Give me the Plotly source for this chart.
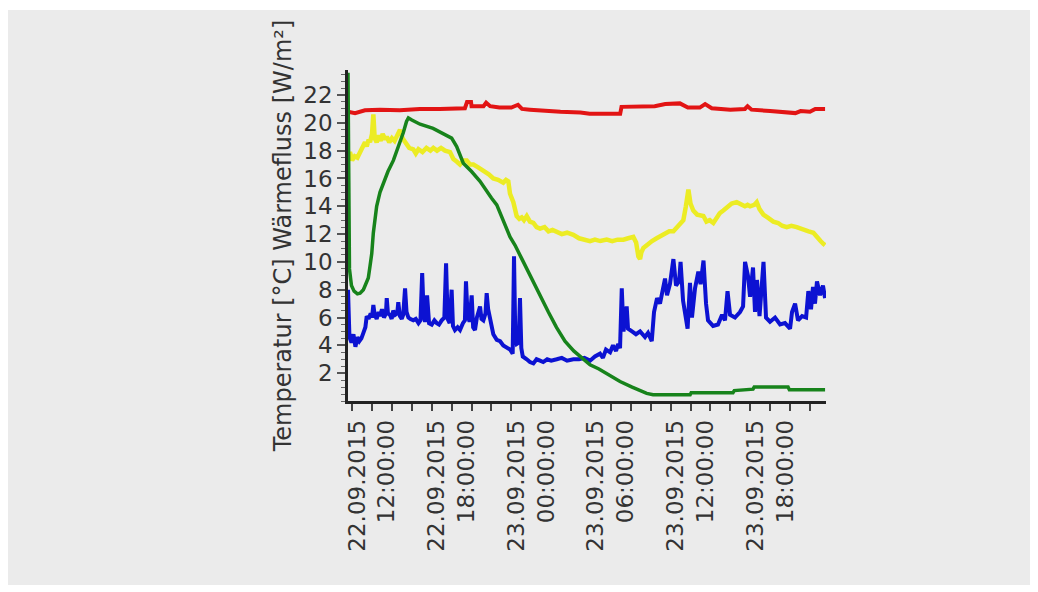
import pandas as pd
import plotly.graph_objects as go

# Hours after 22.09.2015 00:00 and the measured values of each channel
day0 = pd.Timestamp("2015-09-22 00:00:00")

red_h = [10.19, 10.72, 11.47, 12.6, 14.1, 15.6, 17.1, 18.25, 19.0, 19.16, 19.46, 19.5,
         20.4, 20.6, 20.9, 21.6, 22.5, 23.0, 23.3, 23.9, 25.0, 26.2, 27.7, 28.4, 29.9,
         30.7, 30.8, 32.2, 33.3, 34.1, 35.2, 35.8, 36.7, 37.1, 37.6, 39.0, 40.1, 40.3,
         40.6, 42.0, 43.1, 43.9, 44.3, 45.0, 45.4, 46.14]
red_v = [20.8, 20.7, 20.9, 20.95, 20.9, 21.0, 21.0, 21.05, 21.05, 21.5, 21.5, 21.2,
         21.2, 21.45, 21.2, 21.1, 21.1, 21.3, 21.0, 20.95, 20.85, 20.8, 20.75, 20.65, 20.65,
         20.65, 21.15, 21.15, 21.2, 21.35, 21.4, 21.1, 21.1, 21.35, 21.05, 20.95, 21.0, 21.2,
         20.95, 20.85, 20.8, 20.7, 20.85, 20.8, 21.0, 21.0]

yellow_h = [10.19, 10.34, 10.5, 10.7, 10.9, 11.1, 11.3, 11.47, 11.6, 11.75, 11.85, 12.0,
            12.1, 12.2, 12.35, 12.5, 12.65, 12.8, 13.0, 13.11, 13.3, 13.5, 13.7, 13.9,
            14.11, 14.3, 14.61, 14.8, 15.11, 15.3, 15.5, 15.8, 16.1, 16.4, 16.62, 16.9,
            17.2, 17.5, 17.88, 18.13, 18.4, 18.63, 18.9, 19.14, 19.4, 19.64, 20.0, 20.39,
            20.8, 21.14, 21.5, 21.89, 22.1, 22.27, 22.4, 22.65, 22.9, 23.1, 23.28, 23.45,
            23.66, 23.9, 24.16, 24.4, 24.66, 25.0, 25.3, 25.6, 25.92, 26.3, 26.7, 27.17,
            27.6, 28.0, 28.43, 28.8, 29.2, 29.69, 30.1, 30.5, 30.94, 31.3, 31.69, 31.9,
            32.07, 32.2, 32.3, 32.45, 32.8, 33.1, 33.45, 33.8, 34.1, 34.4, 34.71, 35.0,
            35.2, 35.46, 35.65, 35.84, 36.0, 36.21, 36.5, 36.97, 37.2, 37.45, 37.72, 38.0,
            38.2, 38.47, 38.8, 39.1, 39.48, 39.8, 40.1, 40.3, 40.49, 40.8, 40.99, 41.2,
            41.49, 41.8, 42.24, 42.6, 42.9, 43.25, 43.6, 44.0, 44.25, 44.6, 44.9, 45.26,
            45.5, 45.8, 46.01, 46.14]
yellow_v = [17.4, 17.9, 17.3, 17.6, 17.5, 17.9, 18.3, 18.6, 18.3, 18.8, 18.6, 19.2,
            20.6, 18.9, 18.6, 19.1, 18.7, 19.2, 18.8, 19.0, 18.6, 18.9, 18.7, 19.2,
            19.5, 18.9, 18.5, 18.2, 18.1, 17.8, 18.1, 17.9, 18.2, 18.0, 18.2, 18.0,
            18.2, 18.0, 17.9, 17.4, 17.2, 17.0, 17.3, 17.3, 17.0, 17.0, 16.8, 16.6,
            16.3, 16.0, 15.9, 15.7, 15.9, 15.8, 14.9, 14.3, 13.3, 13.1, 13.2, 13.0,
            13.3, 12.9, 12.8, 12.5, 12.4, 12.5, 12.2, 12.3, 12.2, 12.0, 12.1, 11.95,
            11.7, 11.6, 11.5, 11.6, 11.5, 11.6, 11.5, 11.6, 11.6, 11.7, 11.8, 11.4,
            10.4, 10.2, 10.7, 11.0, 11.3, 11.5, 11.7, 11.9, 12.0, 12.2, 12.2, 12.5,
            12.8, 13.0, 14.0, 15.2, 14.2, 13.7, 13.4, 13.3, 12.9, 13.0, 12.8, 13.2,
            13.5, 13.7, 14.0, 14.2, 14.3, 14.1, 14.0, 14.1, 14.0, 14.1, 14.3, 13.8,
            13.4, 13.2, 12.9, 12.8, 12.6, 12.5, 12.6, 12.5, 12.4, 12.3, 12.2, 12.1,
            11.8, 11.5, 11.3, 11.2]

blue_h = [10.19, 10.3, 10.45, 10.6, 10.75, 10.9, 11.05, 11.2, 11.35, 11.5, 11.6, 11.75,
          11.9, 12.0, 12.1, 12.2, 12.35, 12.5, 12.6, 12.75, 12.9, 13.05, 13.11, 13.2,
          13.35, 13.48, 13.6, 13.75, 13.9, 13.98, 14.1, 14.24, 14.35, 14.49, 14.6, 14.74,
          14.9, 15.11, 15.3, 15.5, 15.65, 15.78, 15.9, 16.0, 16.15, 16.3, 16.5, 16.7,
          16.88, 17.05, 17.25, 17.45, 17.58, 17.7, 17.85, 18.0, 18.1, 18.25, 18.45, 18.63,
          18.85, 19.0, 19.08, 19.2, 19.35, 19.51, 19.62, 19.76, 19.9, 20.14, 20.25, 20.39,
          20.55, 20.64, 20.75, 20.89, 21.0, 21.14, 21.4, 21.65, 21.89, 22.1, 22.4, 22.6,
          22.7, 22.8, 22.9, 23.05, 23.15, 23.25, 23.36, 23.66, 23.9, 24.16, 24.4, 24.66,
          24.9, 25.2, 25.5, 25.92, 26.3, 26.7, 27.17, 27.6, 28.0, 28.43, 28.8, 29.18,
          29.4, 29.63, 29.94, 30.16, 30.39, 30.54, 30.69, 30.82, 30.95, 31.19, 31.29, 31.59,
          31.89, 32.2, 32.57, 32.8, 33.08, 33.25, 33.48, 33.7, 33.93, 34.08, 34.23, 34.45,
          34.71, 34.91, 35.14, 35.25, 35.44, 35.67, 35.78, 35.96, 36.11, 36.34, 36.59, 36.76,
          36.98, 37.17, 37.32, 37.7, 38.07, 38.38, 38.6, 38.79, 38.98, 39.35, 39.73, 39.96,
          40.11, 40.33, 40.49, 40.71, 40.86, 41.01, 41.2, 41.5, 41.69, 41.99, 42.37, 42.75,
          43.12, 43.5, 43.65, 43.88, 44.1, 44.41, 44.71, 44.88, 45.08, 45.23, 45.38, 45.53,
          45.76, 45.98, 46.14]
blue_v = [8.0, 4.6, 4.2, 4.8, 3.9, 4.6, 4.3, 4.5, 4.9, 5.3, 6.1, 5.9,
          6.3, 6.0, 6.9, 6.2, 5.9, 6.4, 6.1, 6.6, 6.0, 6.3, 7.4, 6.3,
          6.2, 5.9, 6.5, 6.2, 6.3, 7.1, 6.1, 5.9, 6.2, 8.1, 6.4, 6.0,
          5.9, 5.8, 5.9, 5.6, 5.8, 9.2, 6.1, 5.7, 7.6, 5.6, 5.5, 5.8,
          5.6, 5.5, 5.8, 6.0, 9.9, 5.9, 5.6, 8.0, 5.4, 5.1, 5.3, 5.1,
          5.6, 5.8, 8.6, 6.2, 5.7, 7.6, 5.3, 5.1, 6.0, 6.8, 5.9, 5.8,
          6.3, 7.75, 6.6, 6.0, 5.2, 4.8, 4.4, 4.3, 4.0, 3.9, 3.7, 3.4,
          10.4, 4.5, 4.1, 4.2, 7.4, 3.8, 3.2, 3.0, 2.8, 2.7, 3.0, 2.9,
          2.8, 3.0, 2.9, 3.0, 3.1, 2.9, 3.0, 3.0, 3.1, 2.9, 3.2, 3.4,
          3.1, 3.7, 3.5, 4.0, 3.6, 4.1, 3.8, 8.1, 5.0, 6.8, 5.2, 5.0,
          4.8, 5.0, 4.6, 4.9, 4.3, 6.4, 7.4, 7.0, 8.2, 8.8, 7.6, 8.4,
          10.2, 8.3, 8.6, 10.0, 7.2, 5.8, 5.2, 8.5, 6.0, 8.1, 9.3, 8.4,
          10.1, 7.0, 5.8, 5.4, 5.5, 6.2, 5.8, 7.9, 6.2, 6.0, 6.4, 6.8,
          10.0, 9.0, 7.5, 9.6, 6.4, 8.7, 6.1, 10.0, 6.0, 5.7, 6.0, 5.5,
          5.6, 5.2, 6.4, 7.0, 5.8, 6.1, 6.0, 7.9, 6.6, 8.2, 7.0, 8.6,
          7.6, 8.3, 7.4]

green_h = [10.19, 10.25, 10.3, 10.45, 10.65, 10.9, 11.1, 11.35, 11.55, 11.72, 11.85, 11.98,
           12.1, 12.35, 12.6, 12.85, 13.2, 13.61, 14.0, 14.36, 14.6, 14.74, 15.0, 15.62,
           16.6, 17.63, 18.0, 18.38, 18.88, 19.5, 20.14, 21.0, 21.4, 22.4, 22.78, 23.3,
           24.03, 24.6, 25.29, 25.9, 26.54, 27.2, 27.8, 28.43, 29.1, 29.79, 30.69, 31.6,
           32.3, 32.7, 33.18, 35.97, 36.05, 39.2, 39.3, 40.71, 40.8, 43.35, 43.45, 46.14]
green_v = [23.6, 12.0, 9.5, 8.3, 7.9, 7.7, 7.75, 8.0, 8.4, 8.85, 9.7, 10.6,
           12.1, 14.0, 15.0, 15.7, 16.5, 17.3, 18.3, 19.3, 20.1, 20.35, 20.2, 19.9,
           19.6, 19.1, 18.9, 18.3, 17.1, 16.5, 15.8, 14.6, 14.1, 11.8, 11.2, 10.2,
           8.8, 7.6, 6.4, 5.3, 4.3, 3.6, 3.1, 2.6, 2.3, 1.9, 1.4, 1.0,
           0.7, 0.55, 0.45, 0.45, 0.6, 0.6, 0.75, 0.85, 1.0, 1.0, 0.8, 0.8]

x_tick_times = ["2015-09-22 12:00", "2015-09-22 18:00", "2015-09-23 00:00",
                "2015-09-23 06:00", "2015-09-23 12:00", "2015-09-23 18:00"]
x_tick_text = ["22.09.2015<br>12:00:00", "22.09.2015<br>18:00:00", "23.09.2015<br>00:00:00",
               "23.09.2015<br>06:00:00", "23.09.2015<br>12:00:00", "23.09.2015<br>18:00:00"]
y_tick_vals = [2, 4, 6, 8, 10, 12, 14, 16, 18, 20, 22]


def to_time(hours):
    return day0 + pd.to_timedelta(pd.Series(hours), unit="h")


FONT = "DejaVu Sans, Verdana, sans-serif"
TICK_SIZE = 23
TITLE_SIZE = 24

fig = go.Figure()
series = [
    (red_h, red_v, "#e21414", 4),
    (yellow_h, yellow_v, "#ecec24", 4.5),
    (blue_h, blue_v, "#0c12d2", 4),
    (green_h, green_v, "#17831b", 3.5),
]
for hours, vals, color, width in series:
    fig.add_trace(go.Scatter(
        x=to_time(hours), y=vals, mode="lines",
        line=dict(color=color, width=width),
        hoverinfo="skip", showlegend=False,
    ))

W, H = 1038, 592
ML, MR, MT, MB = 348, 212, 70, 191
pw, ph = W - ML - MR, H - MT - MB

# grey panel behind the whole chart
fig.add_shape(
    type="rect", xref="paper", yref="paper", layer="below",
    x0=(8 - ML) / pw, x1=(1030 - ML) / pw,
    y0=(H - MB - 585) / ph, y1=(H - MB - 10) / ph,
    fillcolor="#ebebeb", line=dict(width=0),
)

fig.update_layout(
    width=W, height=H,
    margin=dict(l=ML, r=MR, t=MT, b=MB, autoexpand=False),
    paper_bgcolor="white",
    plot_bgcolor="rgba(0,0,0,0)",
    font=dict(family=FONT, size=TICK_SIZE, color="#333333"),
    showlegend=False,
)

fig.update_xaxes(
    range=[day0 + pd.Timedelta(hours=10.19), day0 + pd.Timedelta(hours=46.21)],
    tickmode="array", tickvals=x_tick_times, ticktext=x_tick_text,
    tickangle=-90, ticks="outside", ticklen=7, tickwidth=1.5, tickcolor="#444444",
    minor=dict(tickmode="linear", tick0="2015-09-22 00:00", dtick=5400000,
               ticks="outside", ticklen=7, tickwidth=1.5, tickcolor="#444444"),
    showline=True, linecolor="#222222", linewidth=2.5,
    showgrid=False, zeroline=False,
    tickfont=dict(family=FONT, size=TICK_SIZE, color="#333333"),
)

fig.update_yaxes(
    range=[0, 23.8],
    tickmode="array", tickvals=y_tick_vals,
    ticks="outside", ticklen=8, tickwidth=1.5, tickcolor="#555555",
    minor=dict(tickmode="linear", tick0=0, dtick=0.5,
               ticks="outside", ticklen=4, tickwidth=1, tickcolor="#666666"),
    showline=True, linecolor="#222222", linewidth=2.5,
    showgrid=False, zeroline=False,
    tickfont=dict(family=FONT, size=TICK_SIZE, color="#333333"),
    title=dict(text="Temperatur [°C] Wärmefluss [W/m²]",
               font=dict(family=FONT, size=TITLE_SIZE, color="#333333"), standoff=5),
)

fig.write_html("out.html")
